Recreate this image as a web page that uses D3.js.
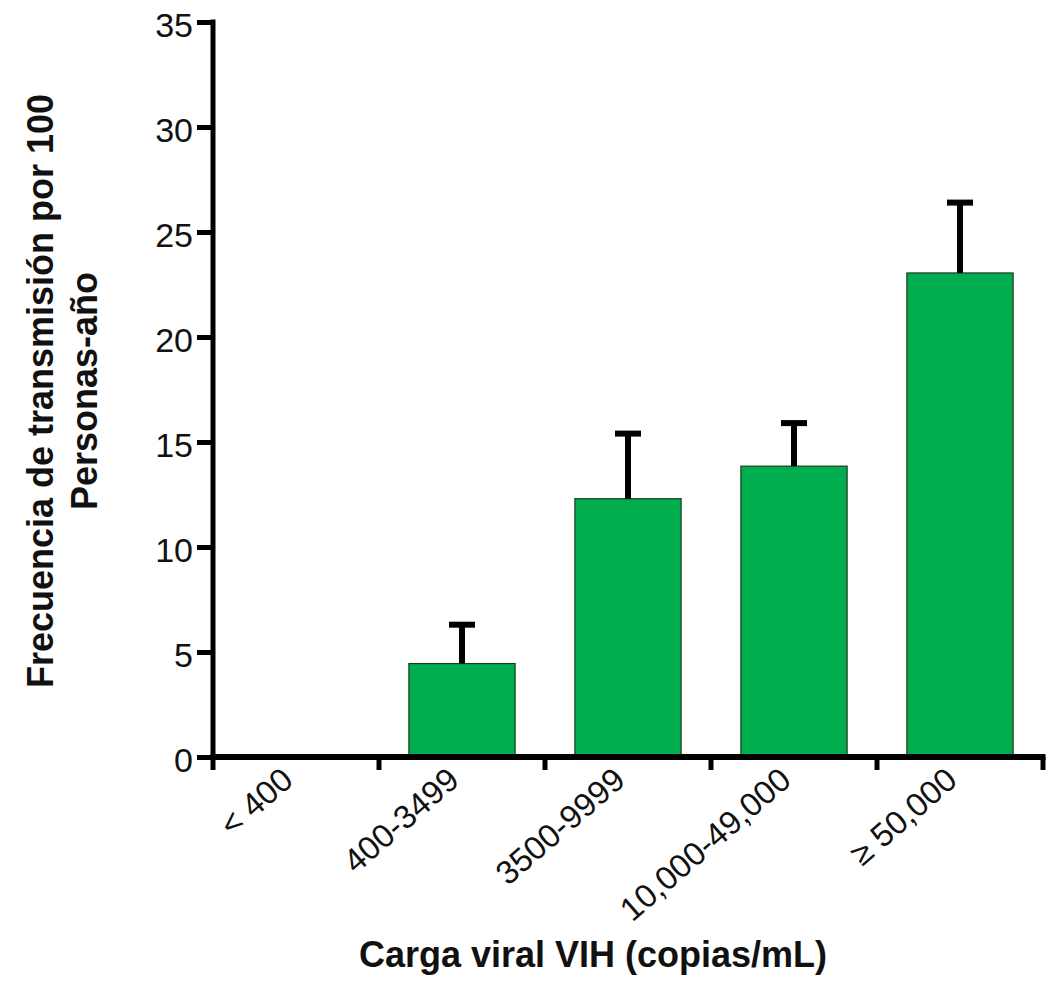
<!DOCTYPE html>
<html>
<head>
<meta charset="utf-8">
<script src="https://cdn.jsdelivr.net/npm/d3@7"></script>
<style>
  body { margin: 0; background: #fff; }
  svg text { font-family: "Liberation Sans", Arial, sans-serif; fill: #111; }
</style>
</head>
<body>
<div id="chart"></div>
<script>
// data
var categories = ["< 400", "400-3499", "3500-9999", "10,000-49,000", "\u2265 50,000"];
var means = [0, 4.45, 12.3, 13.85, 23.05];
var errors = [0, 1.85, 3.1, 2.05, 3.35];   // upper error only
var yTicks = [0, 5, 10, 15, 20, 25, 30, 35];

var width = 1056, height = 981;
var margin = {top: 22, right: 13, bottom: 224, left: 213};

var svg = d3.select("#chart").append("svg")
    .attr("width", width)
    .attr("height", height);

var x = d3.scaleBand()
    .domain(categories)
    .range([margin.left, width - margin.right])
    .paddingInner(0.36)
    .paddingOuter(0.18);

var y = d3.scaleLinear()
    .domain([0, 35])
    .range([height - margin.bottom, margin.top]);

var step = x.step();
var x0 = margin.left, x1 = width - margin.right;

// bars
svg.append("g")
    .selectAll("rect")
    .data(categories.filter(function(c, i) { return means[i] > 0; }))
    .enter()
    .append("rect")
    .attr("x", function(d) { return x(d); })
    .attr("y", function(d) { return y(means[categories.indexOf(d)]); })
    .attr("width", x.bandwidth())
    .attr("height", function(d) { return y(0) - y(means[categories.indexOf(d)]); })
    .style("fill", "#00ad4e")
    .style("stroke", "#1d3b24")
    .style("stroke-width", 1.2);

// error bars (up only)
var eg = svg.append("g");
categories.forEach(function(c, i) {
    if (means[i] <= 0) return;
    var cx = x(c) + x.bandwidth() / 2;
    eg.append("line")
        .attr("x1", cx).attr("x2", cx)
        .attr("y1", y(means[i])).attr("y2", y(means[i] + errors[i]))
        .style("stroke", "#000").style("stroke-width", 6);
    eg.append("line")
        .attr("x1", cx - 13).attr("x2", cx + 13)
        .attr("y1", y(means[i] + errors[i])).attr("y2", y(means[i] + errors[i]))
        .style("stroke", "#000").style("stroke-width", 6);
});

// y axis
var yAxis = svg.append("g")
    .attr("transform", "translate(" + x0 + ",0)")
    .call(d3.axisLeft(y).tickValues(yTicks).tickSize(16).tickSizeOuter(0).tickPadding(4));
yAxis.select(".domain").style("stroke-width", 5).attr("d", "M0," + (y(35) - 2.5) + "V" + (y(0) + 2.5));
yAxis.selectAll(".tick line").style("stroke-width", 5);
yAxis.selectAll(".tick text").style("font-size", "34px").attr("dy", "0.44em");

// x axis: ticks at category boundaries
var bounds = d3.range(categories.length + 1).map(function(i) { return x0 + i * step; });
var xg = svg.append("g");
xg.selectAll(".xl")
    .data(categories)
    .enter()
    .append("text")
    .attr("transform", function(d) {
        return "translate(" + (x(d) + x.bandwidth() / 2 - 1) + "," + (y(0) + 26) + ") rotate(-41)";
    })
    .attr("text-anchor", "end")
    .style("font-size", "33px")
    .text(function(d) { return d; });

xg.append("line")
    .attr("x1", x0 - 2.5).attr("x2", x1 + 2.5)
    .attr("y1", y(0)).attr("y2", y(0))
    .style("stroke", "#000").style("stroke-width", 6);
xg.selectAll(".xt")
    .data(bounds)
    .enter()
    .append("line")
    .attr("x1", function(d) { return d; }).attr("x2", function(d) { return d; })
    .attr("y1", y(0)).attr("y2", y(0) + 13)
    .style("stroke", "#000").style("stroke-width", 5);

// axis titles
svg.append("text")
    .attr("x", 593).attr("y", 967)
    .attr("text-anchor", "middle")
    .style("font-size", "36px").style("font-weight", "bold")
    .text("Carga viral VIH (copias/mL)");

var yt = svg.append("text")
    .attr("transform", "translate(53,391) rotate(-90)")
    .attr("text-anchor", "middle")
    .style("font-size", "36px").style("font-weight", "bold");
yt.append("tspan").attr("x", 0).attr("dy", 0).text("Frecuencia de transmisión por 100");
yt.append("tspan").attr("x", 0).attr("dy", 44).text("Personas-año");
</script>
</body>
</html>
